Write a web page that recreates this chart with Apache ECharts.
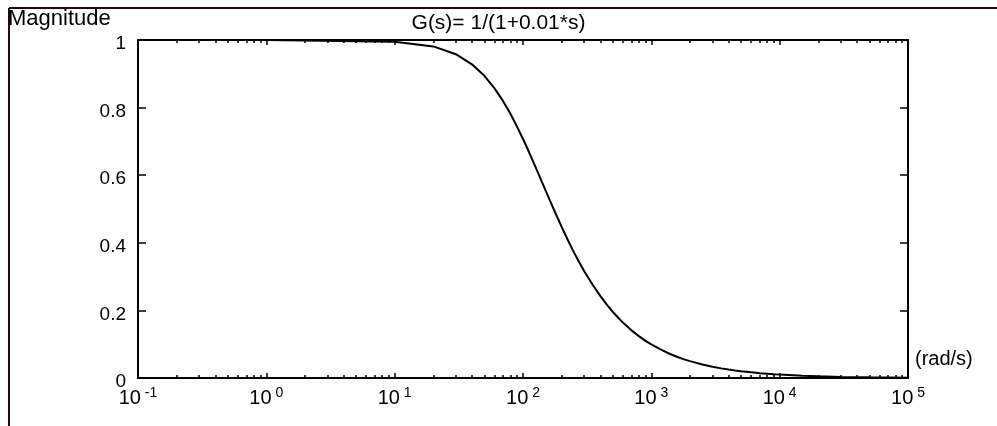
<!DOCTYPE html>
<html>
<head>
<meta charset="utf-8">
<script src="https://cdn.jsdelivr.net/npm/echarts@6/dist/echarts.min.js"></script>
<style>
html, body { margin: 0; padding: 0; background: #fff; }
#chart { width: 997px; height: 426px; }
</style>
</head>
<body>
<div id="chart"></div>
<script>
// frequency (rad/s) and magnitude
var freq = [0.1, 1, 10, 20, 30, 40, 50, 60, 70, 80, 90, 100, 110, 120, 130, 140, 150, 160, 170, 180, 190,
    200, 225, 250, 275, 300, 350, 400, 450, 500, 550, 600, 700, 800, 900, 1000, 1200, 1400, 1600, 1800,
    2000, 2500, 3000, 3500, 4000, 4500, 5000, 6000, 7000, 8000, 9000, 10000, 15000, 20000, 30000, 50000, 100000];
var mag = [1.0, 1.0, 0.995, 0.981, 0.958, 0.928, 0.894, 0.857, 0.819, 0.781, 0.743, 0.707, 0.673, 0.640,
    0.610, 0.581, 0.555, 0.530, 0.507, 0.486, 0.466, 0.447, 0.406, 0.371, 0.342, 0.316, 0.275, 0.243, 0.217,
    0.196, 0.179, 0.164, 0.141, 0.124, 0.110, 0.0995, 0.083, 0.071, 0.062, 0.055, 0.050, 0.040, 0.033,
    0.0285, 0.025, 0.022, 0.020, 0.017, 0.014, 0.0125, 0.011, 0.010, 0.0067, 0.005, 0.0033, 0.002, 0.001];
var majorTicks = [0.1, 1, 10, 100, 1000, 10000, 100000];
var majorExp = ['-1', '0', '1', '2', '3', '4', '5'];
var minorTicks = [];
for (var d = 0; d < majorTicks.length - 1; d++) {
    for (var k = 2; k <= 9; k++) minorTicks.push(+(majorTicks[d] * k).toPrecision(3));
}

var data = [];
for (var i = 0; i < freq.length; i++) data.push([freq[i], mag[i]]);

var chart = echarts.init(document.getElementById('chart'));
var font = 'Liberation Sans, Arial, sans-serif';
var lineStyle = { color: '#000', width: 2 };

function logAxis(pos, ticks, len, line, labels) {
    return {
        type: 'log', logBase: 10, min: 0.1, max: 100000, position: pos,
        axisLine: { show: line, lineStyle: lineStyle, onZero: false },
        axisTick: { show: true, inside: true, length: len, customValues: ticks, lineStyle: { color: '#000', width: 1.5 } },
        axisLabel: labels ? {
            show: true, customValues: majorTicks, margin: 8,
            formatter: function (v) {
                var idx = majorTicks.indexOf(v);
                return '{b|10}{s| ' + majorExp[idx] + '}';
            },
            rich: {
                b: { fontSize: 20, fontFamily: font, color: '#000', verticalAlign: 'bottom', lineHeight: 22 },
                s: { fontSize: 14, fontFamily: font, color: '#000', verticalAlign: 'top', lineHeight: 14 }
            }
        } : { show: false },
        splitLine: { show: false }
    };
}

chart.setOption({
    animation: false,
    title: [
        { text: 'Magnitude', left: 8, top: 8, padding: 0, textStyle: { fontSize: 22, fontWeight: 'normal', fontFamily: font, color: '#000' } },
        { text: 'G(s)= 1/(1+0.01*s)', left: 'center', top: 13, padding: 0, textStyle: { fontSize: 21, fontWeight: 'normal', fontFamily: font, color: '#000' } }
    ],
    graphic: [
        { type: 'line', shape: { x1: 9, y1: 8, x2: 997, y2: 8 }, style: { stroke: '#1a0a0a', lineWidth: 2 } },
        { type: 'line', shape: { x1: 9, y1: 8, x2: 9, y2: 426 }, style: { stroke: '#1a0a0a', lineWidth: 2 } },
        { type: 'text', left: 915, top: 349, style: { text: '(rad/s)', font: '20px ' + font, fill: '#000' } }
    ],
    grid: { left: 138, right: 89, top: 40, bottom: 48 },
    xAxis: [
        logAxis('bottom', majorTicks, 5, true, true),
        logAxis('bottom', minorTicks, 3, false, false),
        logAxis('top', majorTicks, 5, true, false),
        logAxis('top', minorTicks, 3, false, false)
    ],
    yAxis: [
        {
            type: 'value', min: 0, max: 1, interval: 0.2, position: 'left',
            axisLine: { show: true, lineStyle: lineStyle },
            axisTick: { show: true, inside: true, length: 8, lineStyle: { color: '#000', width: 1.5 } },
            axisLabel: { color: '#000', fontSize: 19, fontFamily: font, margin: 12, verticalAlign: 'top', lineHeight: 8 },
            splitLine: { show: false }
        },
        {
            type: 'value', min: 0, max: 1, interval: 0.2, position: 'right',
            axisLine: { show: true, lineStyle: lineStyle },
            axisTick: { show: true, inside: true, length: 8, lineStyle: { color: '#000', width: 1.5 } },
            axisLabel: { show: false },
            splitLine: { show: false }
        }
    ],
    series: [{
        type: 'line',
        data: data,
        showSymbol: false,
        lineStyle: { color: '#000', width: 2 },
        silent: true
    }]
});
</script>
</body>
</html>
